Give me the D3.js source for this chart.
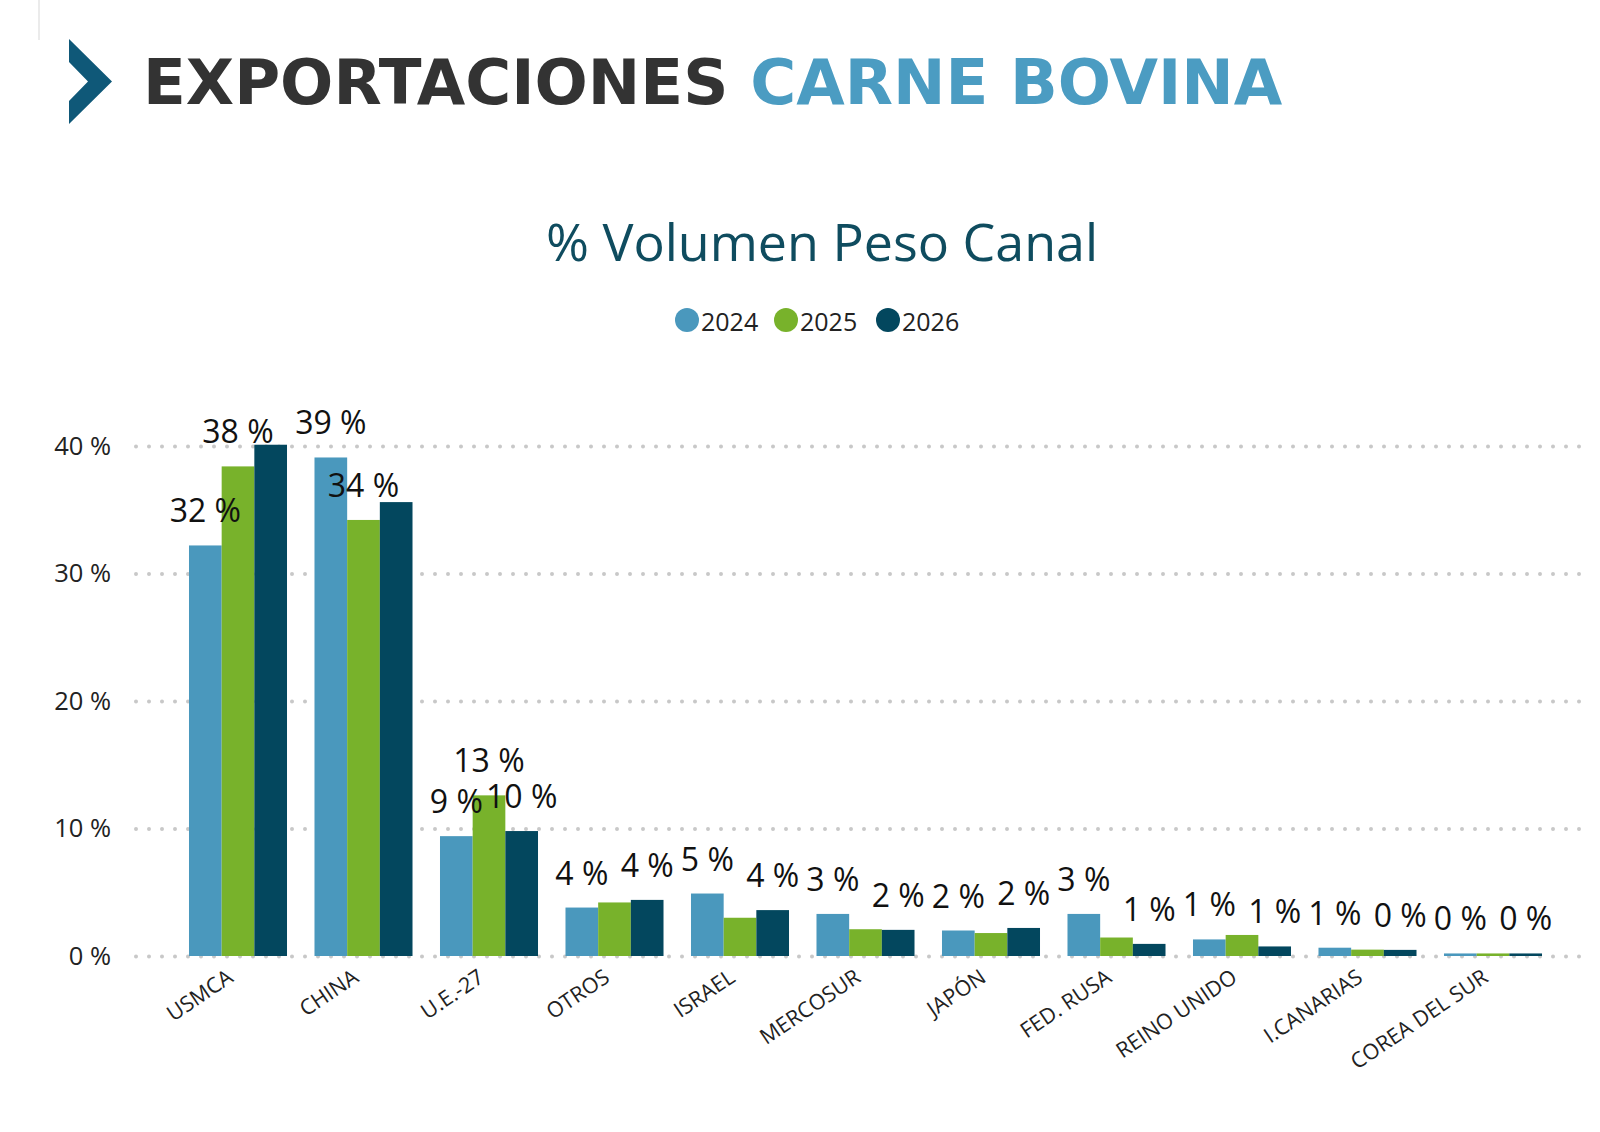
<!DOCTYPE html>
<html lang="es">
<head>
    <meta charset="UTF-8">
    <title>Exportaciones carne bovina</title>
    <style>
        body { margin: 0; background: #ffffff; }
        svg { display: block; }
    </style>
</head>
<body>
    <script src="https://cdn.jsdelivr.net/npm/d3@7/dist/d3.min.js"></script>
    <script type="text/javascript">
        // datos (% volumen peso canal)
        var categories = ["USMCA", "CHINA", "U.E.-27", "OTROS", "ISRAEL", "MERCOSUR", "JAPÓN", "FED. RUSA", "REINO UNIDO", "I.CANARIAS", "COREA DEL SUR"];
        var years = ["2024", "2025", "2026"];
        var values2024 = [32.2, 39.1, 9.4, 3.8, 4.9, 3.3, 2.0, 3.3, 1.3, 0.65, 0.2];
        var values2025 = [38.4, 34.2, 12.6, 4.2, 3.0, 2.1, 1.8, 1.45, 1.65, 0.5, 0.2];
        var values2026 = [40.1, 35.6, 9.8, 4.4, 3.6, 2.05, 2.2, 0.95, 0.75, 0.48, 0.2];
        // etiquetas visibles (las demas se ocultan por solaparse)
        var shown2024 = [true, true, true, true, true, true, true, true, true, true, true];
        var shown2025 = [true, true, true, false, false, false, false, false, false, false, false];
        var shown2026 = [false, false, true, true, true, true, true, true, true, true, true];
        var yTicks = [0, 10, 20, 30, 40];

        var series = [values2024, values2025, values2026];
        var shown = [shown2024, shown2025, shown2026];
        var colors = ["#4a98bd", "#78b22b", "#03475e"];

        var w = 1600;
        var h = 1132;
        var font = "'Open Sans', 'Noto Sans', sans-serif";

        var svg = d3.select("body").append("svg").attr("width", w).attr("height", h);

        // borde tenue a la izquierda
        svg.append("line")
            .attr("x1", 39).attr("x2", 39).attr("y1", 0).attr("y2", 40)
            .attr("stroke", "#e4e4e4").attr("stroke-width", 1.5);

        // chevron
        svg.append("polygon")
            .attr("points", "69,39 112,81.5 69,124 69,101 88,81.5 69,62")
            .attr("fill", "#0f5878");

        var title = svg.append("text")
            .attr("x", 143).attr("y", 104)
            .attr("font-family", "'DejaVu Sans', Verdana, sans-serif")
            .attr("font-weight", "bold")
            .attr("font-size", "62.7px");
        title.append("tspan").attr("fill", "#333333").text("EXPORTACIONES ");
        title.append("tspan").attr("fill", "#4b9cc2").text("CARNE BOVINA");

        svg.append("text")
            .attr("x", 822).attr("y", 261)
            .attr("text-anchor", "middle")
            .attr("font-family", font)
            .attr("font-size", "52px")
            .attr("fill", "#0f4c5f")
            .text("% Volumen Peso Canal");

        // leyenda
        var legendX = [687, 786, 888];
        var legend = svg.selectAll("g.legend")
            .data(years)
            .enter()
            .append("g")
            .attr("class", "legend")
            .attr("transform", function(d, i){ return "translate(" + legendX[i] + ",320)"; });
        legend.append("circle")
            .attr("r", 12)
            .attr("fill", function(d, i){ return colors[i]; });
        legend.append("text")
            .attr("x", 14).attr("y", 11)
            .attr("font-family", font)
            .attr("font-size", "25px")
            .attr("fill", "#222222")
            .text(function(d){ return d; });

        // escalas
        var y = d3.scaleLinear().domain([0, 40]).range([956, 446]);
        var x0 = d3.scaleBand()
            .domain(categories)
            .range([175.25, 1555.75])
            .paddingInner(0.219)
            .paddingOuter(0.1095);
        var x1 = d3.scaleBand().domain(years).range([0, x0.bandwidth()]).padding(0);

        // rejilla punteada
        var gridAxis = d3.axisLeft(y)
            .tickValues(yTicks)
            .tickSize(-(1592 - 136))
            .tickFormat("");
        var grid = svg.append("g")
            .attr("transform", "translate(136,0)")
            .call(gridAxis);
        grid.select(".domain").remove();
        grid.selectAll(".tick line")
            .attr("stroke", "#c8c8c8")
            .attr("stroke-width", 4)
            .attr("stroke-linecap", "round")
            .attr("stroke-dasharray", "0 13");

        var yAxis = svg.append("g")
            .attr("transform", "translate(111,0)")
            .call(d3.axisLeft(y).tickValues(yTicks).tickSize(0).tickPadding(0)
                .tickFormat(function(d){ return d + " %"; }));
        yAxis.select(".domain").remove();
        yAxis.selectAll("text")
            .attr("font-family", font)
            .attr("font-size", "25.5px")
            .attr("fill", "#222222");

        // barras
        var groups = svg.selectAll("g.group")
            .data(categories)
            .enter()
            .append("g")
            .attr("class", "group")
            .attr("transform", function(d){ return "translate(" + x0(d) + ",0)"; });

        groups.selectAll("rect")
            .data(function(d, i){
                return years.map(function(yr, j){ return { year: yr, value: series[j][i], s: j }; });
            })
            .enter()
            .append("rect")
            .attr("x", function(d){ return x1(d.year); })
            .attr("y", function(d){ return y(d.value); })
            .attr("width", x1.bandwidth())
            .attr("height", function(d){ return y(0) - y(d.value); })
            .attr("fill", function(d){ return colors[d.s]; });

        // etiquetas de datos
        groups.selectAll("text.val")
            .data(function(d, i){
                return years.map(function(yr, j){ return { year: yr, value: series[j][i], show: shown[j][i] }; })
                    .filter(function(d){ return d.show; });
            })
            .enter()
            .append("text")
            .attr("class", "val")
            .attr("x", function(d){ return x1(d.year) + x1.bandwidth() / 2; })
            .attr("y", function(d){ return y(d.value) - 23; })
            .attr("text-anchor", "middle")
            .attr("font-family", font)
            .attr("font-size", "32px")
            .attr("fill", "#111111")
            .text(function(d){ return Math.round(d.value) + " %"; });

        // etiquetas del eje x
        svg.selectAll("text.cat")
            .data(categories)
            .enter()
            .append("text")
            .attr("class", "cat")
            .attr("transform", function(d){
                return "translate(" + (x0(d) + x0.bandwidth() / 2 - 12) + ",968) rotate(-34)";
            })
            .attr("dy", "0.71em")
            .attr("text-anchor", "end")
            .attr("font-family", font)
            .attr("font-size", "21.5px")
            .attr("fill", "#222222")
            .text(function(d){ return d; });
    </script>
</body>
</html>
